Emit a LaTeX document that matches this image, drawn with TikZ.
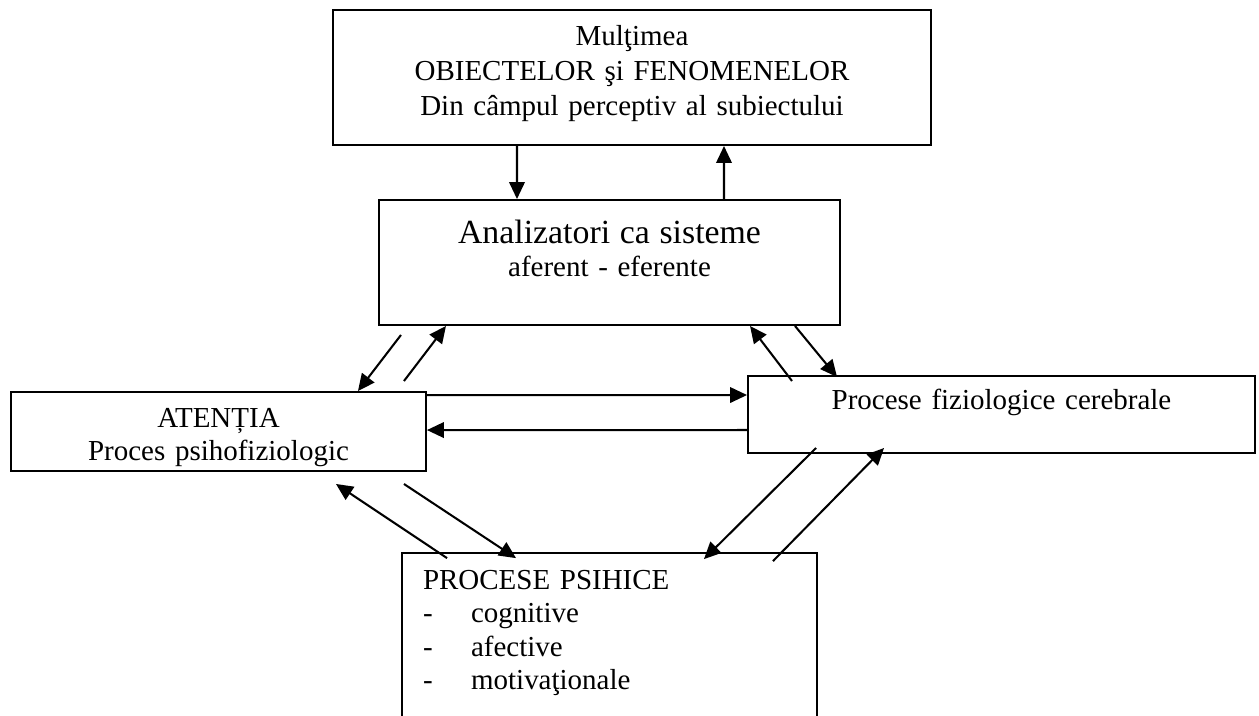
\documentclass[tikz,border=0pt]{standalone}
\usepackage{fontspec}
\setmainfont{Liberation Serif}
\usepackage{tikz}
\usetikzlibrary{arrows.meta}
\tikzstyle{box} = [draw, line width=0.8pt, inner xsep=0pt, inner ysep=0pt, align=center, font=\fontsize{12}{13.9}\selectfont]
\tikzstyle{link} = [draw, line width=0.85pt, -{Triangle[length=7pt,width=6.4pt]}]

\begin{document}
\begin{tikzpicture}[x=0.414pt, y=-0.414pt]
	\useasboundingbox (0,0) rectangle (1259,715);
	\node[box, font=\fontsize{12}{14.4}\selectfont, minimum width=247.6pt, minimum height=55.9pt,
		text width=247.6pt, text height=10pt, text depth=36.5pt] (top) at (632,77.5)
		{Mulţimea\\ OBIECTELOR şi FENOMENELOR\\ Din câmpul perceptiv al subiectului};
	\node[box, minimum width=190.9pt, minimum height=51.75pt, text width=190.9pt,
		text height=10pt, text depth=26.1pt] (anal) at (609.5,262.5)
		{{\fontsize{14}{13.9}\selectfont Analizatori ca sisteme}\\ aferent - eferente};
	\node[box, minimum width=171.8pt, minimum height=32.7pt, text width=171.8pt,
		text height=10pt, text depth=13.5pt] (aten) at (218.5,431.5)
		{ATENȚIA\\ Proces psihofiziologic};
	\node[box, minimum width=209.9pt, minimum height=31.9pt, text width=209.9pt,
		text height=10pt, text depth=14.4pt] (fiz) at (1001.5,414.5)
		{Procese fiziologice cerebrale};
	\node[box, align=left, minimum width=171.8pt, minimum height=75.3pt, text width=154.4pt,
		text height=10pt, text depth=55.5pt] (psih) at (609.5,644)
		{PROCESE PSIHICE\\
		\makebox[19.9pt][l]{-}cognitive\\
		\makebox[19.9pt][l]{-}afective\\
		\makebox[19.9pt][l]{-}motivaţionale};

	\draw[link] ([shift={(185,0)}]top.south west) -- ([shift={(139,0)}]anal.north west);
	\draw[link] ([shift={(346,0)}]anal.north west) -- ([shift={(392,0)}]top.south west);

	\draw[link] ([shift={(23,9)}]anal.south west) -- ([shift={(-69,0)}]aten.north east);
	\draw[link] ([shift={(-23,-10)}]aten.north east) -- ([shift={(68,0)}]anal.south west);
	\draw[link] ([shift={(45,6)}]fiz.north west) -- ([shift={(-91,0)}]anal.south east);
	\draw[link] ([shift={(-46,0)}]anal.south east) -- ([shift={(90,2)}]fiz.north west);

	\draw[link] ([shift={(0,4)}]aten.north east) -- ([shift={(0,20)}]fiz.north west);
	\draw[link] ([shift={(0,55)}]fiz.north west) -- ([shift={(0,39)}]aten.north east);

	\draw[link] ([shift={(46,6)}]psih.north west) -- ([shift={(-91,12)}]aten.south east);
	\draw[link] ([shift={(-23,12)}]aten.south east) -- ([shift={(115,6)}]psih.north west);
	\draw[link] ([shift={(69,-6)}]fiz.south west) -- ([shift={(-114,7)}]psih.north east);
	\draw[link] ([shift={(-45,9)}]psih.north east) -- ([shift={(137,-6)}]fiz.south west);
\end{tikzpicture}
\end{document}
